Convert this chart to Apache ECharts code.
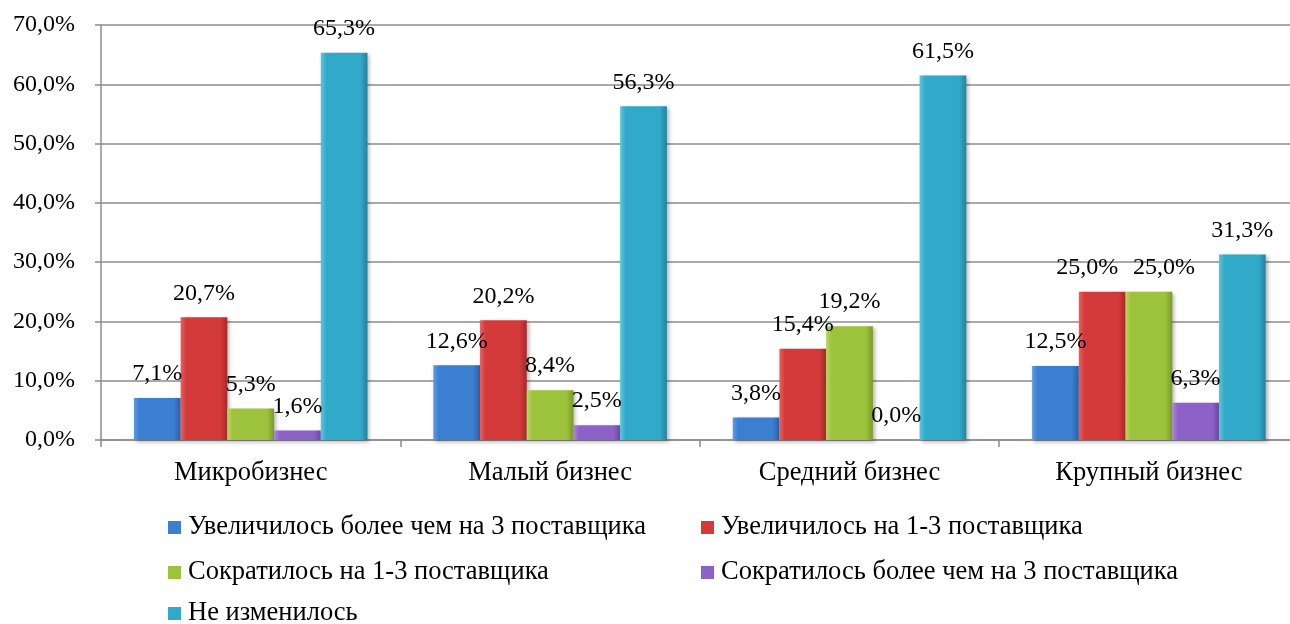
<!DOCTYPE html>
<html>
<head>
<meta charset="utf-8">
<script src="https://cdn.jsdelivr.net/npm/echarts@6/dist/echarts.min.js"></script>
<style>
  html, body { margin: 0; padding: 0; background: #fff; }
  #chart { width: 1290px; height: 624px; }
</style>
</head>
<body>
<div id="chart"></div>
<script>
// категории и значения (%)
var categories = ['Микробизнес', 'Малый бизнес', 'Средний бизнес', 'Крупный бизнес'];
var seriesNames = [
  'Увеличилось более чем на 3 поставщика',
  'Увеличилось на 1-3 поставщика',
  'Сократилось на 1-3 поставщика',
  'Сократилось более чем на 3 поставщика',
  'Не изменилось'
];
var incMore3 = [7.1, 12.6, 3.8, 12.5];
var inc1to3 = [20.7, 20.2, 15.4, 25.0];
var dec1to3 = [5.3, 8.4, 19.2, 25.0];
var decMore3 = [1.6, 2.5, 0.0, 6.3];
var unchanged = [65.3, 56.3, 61.5, 31.3];
var yTicks = [0, 10, 20, 30, 40, 50, 60, 70];

var allData = [incMore3, inc1to3, dec1to3, decMore3, unchanged];
var colors = [
  ['#5d9be3', '#3a7fd0', '#2a62a8'],
  ['#e86060', '#d43a3a', '#a82828'],
  ['#b8d860', '#9dc23b', '#7a9a28'],
  ['#a88ad8', '#8c62c8', '#6a48a0'],
  ['#5cc6e0', '#31a9c9', '#22839e']
];
var font = '"Liberation Serif", "Times New Roman", serif';

function fmt(v) {
  return v.toFixed(1).replace('.', ',') + '%';
}

let myChart = echarts.init(document.getElementById('chart'));

var series = [];
var legends = [];
// позиции легенды: две колонки, три строки
var legendPos = [[168, 514], [701, 514], [168, 559], [701, 559], [168, 600]];
for (var i = 0; i < allData.length; i++) {
  var c = colors[i];
  series.push({
    name: seriesNames[i],
    type: 'bar',
    barGap: '0%',
    barCategoryGap: '22%',
    data: allData[i],
    itemStyle: {
      color: new echarts.graphic.LinearGradient(0, 0, 1, 0, [
        { offset: 0, color: c[0] },
        { offset: 0.12, color: c[1] },
        { offset: 0.85, color: c[1] },
        { offset: 1, color: c[2] }
      ]),
      shadowColor: 'rgba(0,0,0,0.3)',
      shadowBlur: 4,
      shadowOffsetX: 2,
      shadowOffsetY: 2
    },
    label: {
      show: true,
      position: 'top',
      distance: 12,
      color: '#000',
      fontFamily: font,
      fontSize: 24,
      formatter: function (p) { return fmt(p.value); }
    },
    // две подписи 25,0% у крупного бизнеса разведены в стороны
    labelLayout: function (p) {
      if (p.dataIndex === 3 && p.seriesIndex === 1) return { dx: -15 };
      if (p.dataIndex === 3 && p.seriesIndex === 2) return { dx: 15 };
      return {};
    }
  });
  legends.push({
    data: [seriesNames[i]],
    left: legendPos[i][0],
    top: legendPos[i][1],
    padding: 0,
    icon: 'rect',
    itemWidth: 13,
    itemHeight: 13,
    selectedMode: false,
    itemStyle: { color: c[1] },
    textStyle: {
      color: '#000',
      fontFamily: font,
      fontSize: 26.5,
      padding: [0, 0, 0, 2]
    }
  });
}

let option = {
  animation: false,
  backgroundColor: '#fff',
  textStyle: { fontFamily: font, color: '#000' },
  legend: legends,
  grid: {
    left: 101,
    top: 25,
    height: 415,
    width: 1197.6,
    containLabel: false,
    outerBoundsMode: 'none'
  },
  xAxis: {
    type: 'category',
    data: categories,
    axisLine: { lineStyle: { color: '#8c8c8c', width: 1.5 } },
    axisTick: { show: true, length: 7, lineStyle: { color: '#8c8c8c', width: 1.5 } },
    axisLabel: {
      color: '#000',
      fontFamily: font,
      fontSize: 26.5,
      margin: 20
    }
  },
  yAxis: {
    type: 'value',
    min: yTicks[0],
    max: yTicks[yTicks.length - 1],
    interval: 10,
    axisLine: { show: true, lineStyle: { color: '#8c8c8c', width: 1.5 } },
    axisTick: { show: true, length: 6, lineStyle: { color: '#8c8c8c', width: 1.5 } },
    splitLine: { lineStyle: { color: '#8c8c8c', width: 1.5 } },
    axisLabel: {
      color: '#000',
      fontFamily: font,
      fontSize: 24,
      margin: 26,
      formatter: function (v) { return fmt(v); }
    }
  },
  series: series
};
myChart.setOption(option);
</script>
</body>
</html>
